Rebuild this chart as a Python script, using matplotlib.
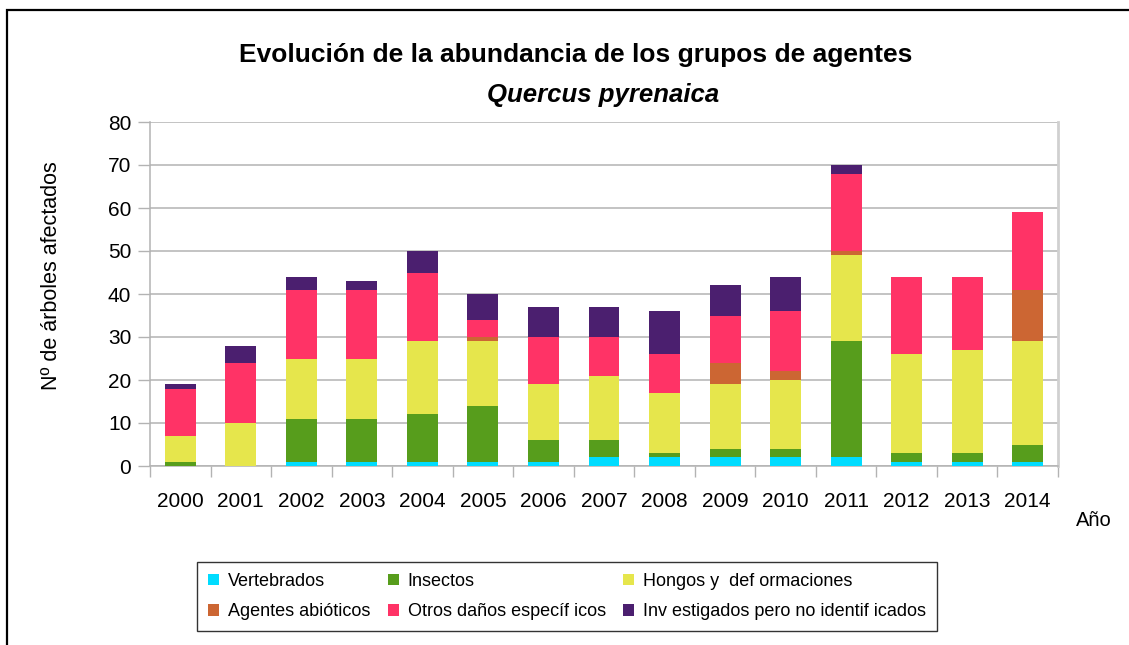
""" Stacked bars: agent groups on Quercus pyrenaica, 2000-2014.

"""

# -- Imports -----------------------------------------------------------------
import matplotlib
matplotlib.use('Agg')
import matplotlib.pyplot as plt
from matplotlib.patches import Rectangle
import numpy as np

# -- Data --------------------------------------------------------------------
years = ['2000', '2001', '2002', '2003', '2004', '2005', '2006', '2007',
         '2008', '2009', '2010', '2011', '2012', '2013', '2014']

vertebrados = [0, 0, 1, 1, 1, 1, 1, 2, 2, 2, 2, 2, 1, 1, 1]
insectos = [1, 0, 10, 10, 11, 13, 5, 4, 1, 2, 2, 27, 2, 2, 4]
hongos = [6, 10, 14, 14, 17, 15, 13, 15, 14, 15, 16, 20, 23, 24, 24]
abioticos = [0, 0, 0, 0, 0, 1, 0, 0, 0, 5, 2, 1, 0, 0, 12]
otros = [11, 14, 16, 16, 16, 4, 11, 9, 9, 11, 14, 18, 18, 17, 18]
investigados = [1, 4, 3, 2, 5, 6, 7, 7, 10, 7, 8, 2, 0, 0, 0]

series = [
    ('Vertebrados', vertebrados, '#00DCFF'),
    ('Insectos', insectos, '#579D1C'),
    ('Hongos y  def ormaciones', hongos, '#E6E64C'),
    ('Agentes abióticos', abioticos, '#CC6633'),
    ('Otros daños específ icos', otros, '#FF3366'),
    ('Inv estigados pero no identif icados', investigados, '#4B1F6F'),
]

# -- Figure ------------------------------------------------------------------
plt.rcParams['font.family'] = ['Liberation Sans', 'DejaVu Sans']

W, H = 1129, 645
fig = plt.figure(figsize=(W / 100, H / 100), dpi=100)
ax = fig.add_axes([150 / W, 1 - 466 / H, 908 / W, 344 / H])

grid_c = '#b3b3b3'
x = np.arange(len(years))
bottom = np.zeros(len(years))
handles = []
for label, vals, color in series:
    vals = np.array(vals, dtype=float)
    h = ax.bar(x, vals, width=0.51, bottom=bottom, color=color,
               label=label, zorder=3)
    handles.append(h)
    bottom += vals

ax.set_xlim(-0.5, len(years) - 0.5)
ax.set_ylim(0, 80)
ax.set_yticks(np.arange(0, 81, 10))
ax.set_xticks(x)
ax.set_xticklabels(years)
ax.set_xticks(np.arange(-0.5, len(years), 1.0), minor=True)

ax.yaxis.grid(True, color=grid_c, lw=1.1, zorder=0)
ax.tick_params(axis='y', length=8.5, width=1, color=grid_c, pad=5,
               labelsize=15)
ax.tick_params(axis='x', which='major', length=0, pad=19, labelsize=15)
ax.tick_params(axis='x', which='minor', length=8, width=1, color=grid_c)

for side in ['left', 'bottom', 'right', 'top']:
    ax.spines[side].set_color(grid_c)
    ax.spines[side].set_linewidth(1.1)
ax.spines['right'].set_color('#d0d0d0')
ax.spines['right'].set_linewidth(2)
ax.spines['top'].set_visible(False)

# -- Texts -------------------------------------------------------------------
fig.text(576 / W, 1 - 55 / H,
         'Evolución de la abundancia de los grupos de agentes',
         ha='center', va='center', fontsize=19, weight='bold')
fig.text(603 / W, 1 - 95 / H, 'Quercus pyrenaica', ha='center',
         va='center', fontsize=18.5, weight='bold', style='italic')
fig.text(52 / W, 1 - 276 / H, 'Nº de árboles afectados', rotation=90,
         ha='center', va='center', fontsize=15.5)
fig.text(1094 / W, 1 - 520 / H, 'Año', ha='center', va='center',
         fontsize=14.5)

# -- Legend (column-major order for 2 rows x 3 cols) -------------------------
order = [0, 3, 1, 4, 2, 5]
leg = fig.legend([handles[i] for i in order],
                 [series[i][0] for i in order],
                 ncol=3, loc='upper left',
                 bbox_to_anchor=(197 / W, 1 - 633 / H, 740 / W, 71 / H),
                 mode='expand', fontsize=13, frameon=True,
                 fancybox=False, edgecolor='black', handlelength=0.6,
                 handleheight=0.6, handletextpad=0.5, columnspacing=0.8,
                 labelspacing=0.75, borderaxespad=0, borderpad=0.6)
leg.get_frame().set_linewidth(1.0)

# -- Outer frame -------------------------------------------------------------
fig.patches.append(Rectangle((7 / W, -0.1), 1.2, 1 - 10 / H + 0.1,
                             transform=fig.transFigure, fill=False,
                             edgecolor='black', lw=1.6))

fig.savefig('out.png', dpi=100)
